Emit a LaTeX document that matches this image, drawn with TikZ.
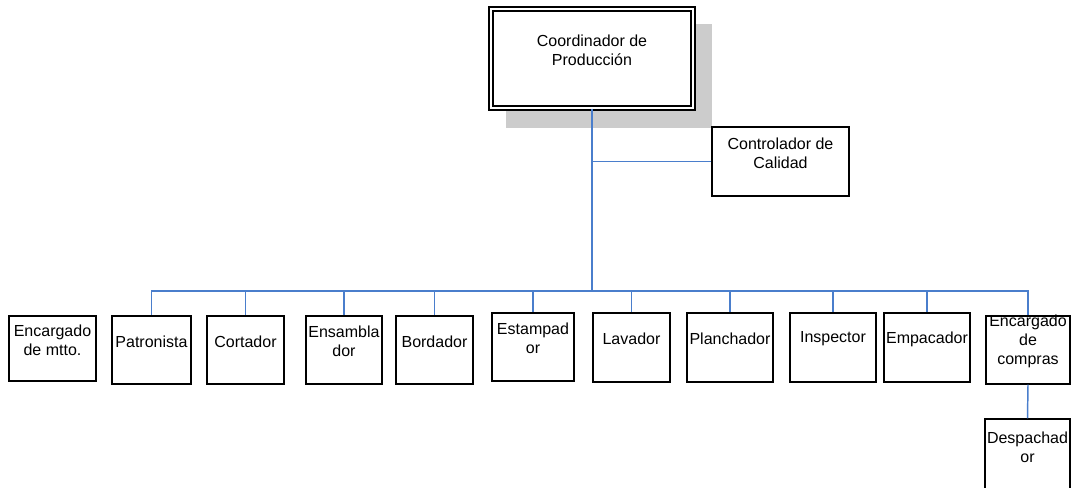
\documentclass[tikz,border=0pt]{standalone}
\usepackage{fontspec}
\setmainfont{Liberation Sans}
\usetikzlibrary{calc}
\definecolor{connblue}{RGB}{74,126,204}
\definecolor{shadowgray}{RGB}{204,204,204}

% \orgbox[extra style]{name}{x1}{y1}{x2}{y2}{text}: a framed box given by its corners,
% with its caption set a little above the centre
\newcommand{\orgbox}[7][]{%
  \node[box,#1, minimum width={(#5-#3)*0.75pt}, minimum height={(#6-#4)*0.75pt}]
    (#2) at ({(#3+#5)/2},{(#4+#6)/2}) {};
  \node[lbl] (#2-t) at ($(#2.center)+(0,-8.5)$) {#7};
}

\begin{document}
\begin{tikzpicture}[x=0.75pt,y=-0.75pt,
  box/.style={draw=black, line width=1pt, fill=white, inner sep=0pt},
  headbox/.style={line width=0.8pt, double=white, double distance=2.2pt},
  lbl/.style={align=center, inner sep=0pt, font=\fontsize{12}{14.2}\selectfont},
  conn/.style={draw=connblue, line width=1.1pt}]
\useasboundingbox (0,0) rectangle (1071,487);

% shadow behind the head box
\fill[shadowgray] (506,24) rectangle (712,128);

% head and staff boxes
\orgbox[headbox]{coord}{491}{9}{693}{108}{Coordinador de\\Producción}
\orgbox{ctl}{712}{127}{849}{196}{Controlador de\\Calidad}

% operating staff row
\orgbox{mtto}{9}{316}{96}{381}{Encargado\\de mtto.}
\orgbox{pat}{112}{316}{191}{384}{Patronista}
\orgbox{cort}{207}{316}{284}{384}{Cortador}
\orgbox{ens}{306}{316}{382}{384}{Ensambla\\dor}
\orgbox{bord}{396}{316}{473}{384}{Bordador}
\orgbox{estamp}{492}{313}{574}{381}{Estampad\\or}
\orgbox{lav}{593}{313}{670}{382}{Lavador}
\orgbox{planch}{687}{313}{773}{382}{Planchador}
\orgbox{insp}{790}{313}{876}{382}{Inspector}
\orgbox{emp}{884}{313}{970}{382}{Empacador}
\orgbox{comp}{986}{316}{1070}{384}{Encargado\\de\\compras}
\orgbox{desp}{985}{419}{1070}{492}{Despachad\\or}

% connectors
\coordinate (bus) at (592,291);
\draw[conn] (coord.south) -- (bus);
\draw[conn] (coord.south |- ctl.west) -- (ctl.west);
\foreach \n in {pat,cort,ens,bord,estamp,lav,planch,insp,emp,comp}
  \draw[conn] (bus) -| (\n.north);
\draw[conn] (comp.south) -- (desp.north);
\end{tikzpicture}
\end{document}
